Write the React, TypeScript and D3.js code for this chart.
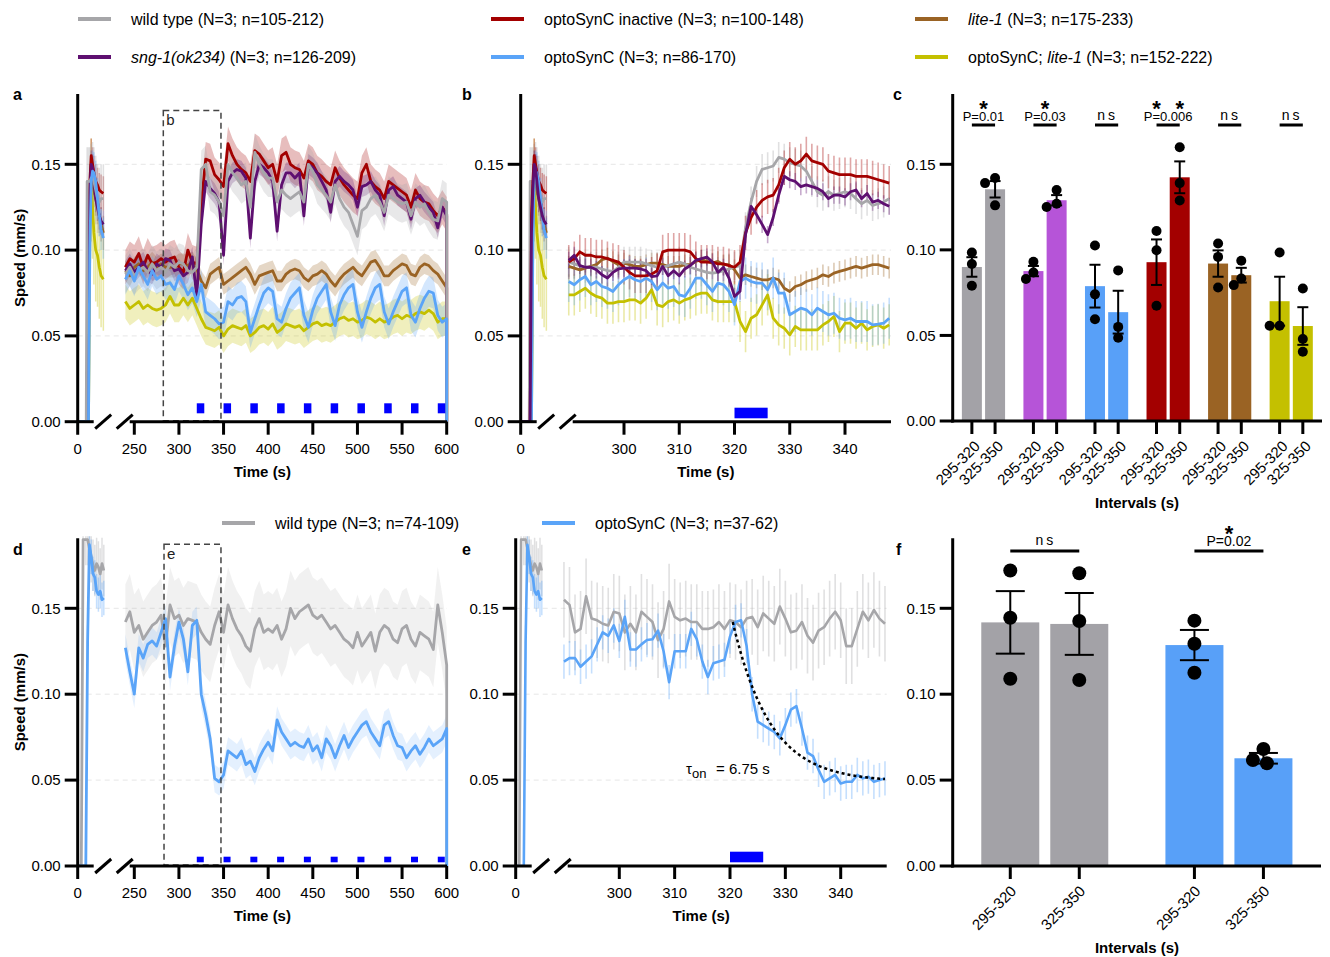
import React from "react";
import * as d3 from "d3";

const FONT = "'Liberation Sans', Arial, Helvetica, sans-serif";

// ---------- colours ----------
const COL = {
  wt: "#a6a6a9",
  inact: "#a30000",
  lite: "#9a6324",
  sng: "#5e0f70",
  opto: "#5aa4f8",
  ol: "#c4c000",
  sngBar: "#b654d8",
  wtBar: "#a3a2a7",
  optoBar: "#58a0f8",
  pulse: "#0000ff",
};

// ---------- time axes ----------
const TIME_A = [...d3.range(240, 601, 5), 600];
const TIME_B = d3.range(290, 349, 1);
const START_T_A = [0, 9.5, 10.5, 12, 13.5, 15, 16.5, 18, 20, 22, 24, 26, 28.5];
const START_T_D = [0, 4, 6, 9, 11, 13, 15, 17, 19, 21, 23, 25, 27, 29];
const PULSES_A = d3.range(320, 591, 30);
const PULSE_B = [320];
const PULSE_DUR = 6;
const Y_TICKS = [0, 0.05, 0.1, 0.15];
const GRID = [0.05, 0.1, 0.15];

// ---------- panel a: startup segment ----------
const START_WT_A = [0, 0, 0.14, 0.14, 0.14, 0.142, 0.143, 0.14, 0.135, 0.13, 0.128, 0.13, 0.13];
const START_INACT_A = [0, 0, 0, 0.12, 0.14, 0.155, 0.15, 0.145, 0.14, 0.138, 0.135, 0.134, 0.133];
const START_SNG_A = [0, 0, 0, 0.11, 0.135, 0.15, 0.148, 0.14, 0.13, 0.125, 0.12, 0.117, 0.115];
const START_OPTO_A = [0, 0, 0, 0, 0.1, 0.14, 0.146, 0.145, 0.14, 0.13, 0.12, 0.112, 0.107];
const START_OL_A = [0, 0, 0, 0, 0.11, 0.135, 0.125, 0.11, 0.1, 0.097, 0.09, 0.085, 0.083];
const START_LITE_A = [0, 0, 0, 0.1, 0.13, 0.14, 0.14, 0.135, 0.13, 0.125, 0.12, 0.115, 0.11];

// ---------- panel a: 240-600 s ----------
const INACT_A = [
  0.090, 0.095, 0.093, 0.098, 0.090, 0.097, 0.092, 0.093, 0.095, 0.093,
  0.095, 0.096, 0.090, 0.087, 0.100, 0.093, 0.092, 0.127, 0.153, 0.152,
  0.144, 0.141, 0.137, 0.162, 0.155, 0.150, 0.147, 0.145, 0.140, 0.158,
  0.156, 0.152, 0.148, 0.150, 0.140, 0.155, 0.157, 0.150, 0.148, 0.147,
  0.142, 0.152, 0.150, 0.145, 0.143, 0.140, 0.138, 0.148, 0.142, 0.138,
  0.135, 0.132, 0.130, 0.145, 0.150, 0.140, 0.137, 0.135, 0.130, 0.140,
  0.138, 0.136, 0.134, 0.132, 0.125, 0.135, 0.130, 0.128, 0.127, 0.123,
  0.120, 0.125, 0.121, 0,
];
const SNG_A = [
  0.088, 0.092, 0.087, 0.090, 0.093, 0.088, 0.086, 0.092, 0.090, 0.095,
  0.094, 0.088, 0.089, 0.085, 0.087, 0.096, 0.073, 0.115, 0.140, 0.136,
  0.133, 0.128, 0.097, 0.140, 0.145, 0.147, 0.146, 0.142, 0.107, 0.140,
  0.150, 0.148, 0.145, 0.140, 0.111, 0.138, 0.145, 0.145, 0.142, 0.145,
  0.120, 0.150, 0.148, 0.145, 0.140, 0.135, 0.122, 0.140, 0.143, 0.140,
  0.138, 0.135, 0.125, 0.137, 0.138, 0.140, 0.135, 0.132, 0.120, 0.135,
  0.137, 0.132, 0.130, 0.128, 0.118, 0.130, 0.132, 0.128, 0.125, 0.122,
  0.113, 0.125, 0.120, 0,
];
const WT_A = [
  0.086, 0.090, 0.085, 0.088, 0.090, 0.087, 0.092, 0.088, 0.090, 0.087,
  0.092, 0.090, 0.093, 0.092, 0.088, 0.087, 0.090, 0.147, 0.150, 0.134,
  0.132, 0.128, 0.120, 0.150, 0.145, 0.142, 0.138, 0.140, 0.125, 0.157,
  0.150, 0.145, 0.142, 0.142, 0.128, 0.135, 0.132, 0.130, 0.132, 0.134,
  0.128, 0.150, 0.146, 0.138, 0.135, 0.132, 0.128, 0.138, 0.130, 0.125,
  0.122, 0.115, 0.108, 0.123, 0.125, 0.130, 0.132, 0.128, 0.122, 0.132,
  0.130, 0.128, 0.127, 0.128, 0.120, 0.128, 0.125, 0.127, 0.122, 0.118,
  0.117, 0.130, 0.128, 0,
];
const LITE_A = [
  0.088, 0.085, 0.090, 0.092, 0.088, 0.090, 0.093, 0.090, 0.092, 0.090,
  0.090, 0.090, 0.092, 0.092, 0.091, 0.093, 0.089, 0.082, 0.078, 0.086,
  0.088, 0.090, 0.080, 0.082, 0.084, 0.086, 0.088, 0.090, 0.086, 0.080,
  0.085, 0.086, 0.087, 0.088, 0.082, 0.082, 0.086, 0.088, 0.089, 0.088,
  0.084, 0.082, 0.085, 0.086, 0.088, 0.086, 0.082, 0.079, 0.083, 0.086,
  0.088, 0.090, 0.087, 0.085, 0.089, 0.093, 0.094, 0.090, 0.085, 0.085,
  0.088, 0.090, 0.092, 0.091, 0.086, 0.085, 0.090, 0.092, 0.091, 0.088,
  0.086, 0.082, 0.078, 0,
];
const OPTO_A = [
  0.083, 0.088, 0.082, 0.090, 0.085, 0.080, 0.088, 0.083, 0.085, 0.080,
  0.081, 0.077, 0.085, 0.080, 0.074, 0.078, 0.070, 0.080, 0.064, 0.062,
  0.060, 0.057, 0.058, 0.070, 0.068, 0.072, 0.073, 0.070, 0.052, 0.060,
  0.068, 0.075, 0.078, 0.076, 0.060, 0.058, 0.066, 0.072, 0.075, 0.078,
  0.062, 0.055, 0.065, 0.072, 0.076, 0.080, 0.064, 0.056, 0.068, 0.074,
  0.078, 0.080, 0.064, 0.055, 0.064, 0.072, 0.078, 0.080, 0.064, 0.057,
  0.064, 0.070, 0.076, 0.078, 0.062, 0.058, 0.066, 0.072, 0.076, 0.075,
  0.062, 0.058, 0.060, 0,
];
const OL_A = [
  0.070, 0.066, 0.068, 0.070, 0.066, 0.068, 0.066, 0.065, 0.066, 0.068,
  0.073, 0.068, 0.068, 0.072, 0.068, 0.072, 0.066, 0.060, 0.055, 0.054,
  0.053, 0.055, 0.050, 0.054, 0.056, 0.055, 0.054, 0.056, 0.050, 0.052,
  0.055, 0.056, 0.054, 0.057, 0.052, 0.054, 0.057, 0.056, 0.055, 0.056,
  0.053, 0.055, 0.057, 0.058, 0.056, 0.057, 0.056, 0.058, 0.060, 0.061,
  0.059, 0.060, 0.058, 0.059, 0.061, 0.060, 0.058, 0.060, 0.058, 0.059,
  0.061, 0.062, 0.060, 0.062, 0.061, 0.063, 0.064, 0.063, 0.065, 0.063,
  0.058, 0.060, 0.060, 0,
];

// ---------- panel b: 290-348 s ----------
const INACT_B = [
  0.093, 0.095, 0.099, 0.097, 0.097, 0.096, 0.096, 0.095, 0.094, 0.093,
  0.090, 0.087, 0.085, 0.085, 0.085, 0.086, 0.088, 0.099, 0.100, 0.100,
  0.100, 0.100, 0.099, 0.095, 0.093, 0.093, 0.093, 0.092, 0.092, 0.091,
  0.090, 0.093, 0.110, 0.119, 0.125, 0.129, 0.131, 0.132, 0.138, 0.148,
  0.153, 0.150, 0.152, 0.156, 0.152, 0.151, 0.150, 0.146, 0.145, 0.144,
  0.144, 0.144, 0.143, 0.143, 0.143, 0.142, 0.141, 0.140, 0.139,
];
const WT_B = [
  0.093, 0.092, 0.091, 0.090, 0.090, 0.090, 0.089, 0.088, 0.0876, 0.090,
  0.093, 0.093, 0.093, 0.093, 0.092, 0.091, 0.090, 0.090, 0.091, 0.092,
  0.093, 0.092, 0.090, 0.089, 0.088, 0.087, 0.0866, 0.087, 0.088, 0.089,
  0.090, 0.091, 0.113, 0.128, 0.140, 0.147, 0.148, 0.149, 0.154, 0.153,
  0.151, 0.150, 0.149, 0.146, 0.140, 0.134, 0.132, 0.134, 0.132, 0.133,
  0.134, 0.133, 0.130, 0.127, 0.129, 0.126, 0.127, 0.128, 0.130,
];
const SNG_B = [
  0.094, 0.097, 0.091, 0.090, 0.090, 0.0885, 0.0856, 0.0837, 0.087, 0.089,
  0.0895, 0.0895, 0.0895, 0.089, 0.088, 0.0846, 0.085, 0.0905, 0.085, 0.088,
  0.085, 0.089, 0.091, 0.094, 0.095, 0.096, 0.093, 0.087, 0.090, 0.0837,
  0.073, 0.076, 0.109, 0.1255, 0.1206, 0.115, 0.109, 0.119, 0.132, 0.143,
  0.141, 0.140, 0.137, 0.138, 0.137, 0.136, 0.134, 0.130, 0.132, 0.132,
  0.131, 0.134, 0.135, 0.130, 0.133, 0.128, 0.129, 0.127, 0.1255,
];
const LITE_B = [
  0.0905, 0.0895, 0.0885, 0.0895, 0.0905, 0.0915, 0.0944, 0.0953, 0.0934, 0.0915,
  0.0924, 0.0915, 0.0905, 0.0905, 0.0915, 0.0924, 0.0924, 0.0915, 0.0905, 0.0905,
  0.0905, 0.0915, 0.0915, 0.0934, 0.0944, 0.0934, 0.0924, 0.0934, 0.0915, 0.0915,
  0.0885, 0.0837, 0.0856, 0.0846, 0.0837, 0.0827, 0.0827, 0.0837, 0.0827, 0.0778,
  0.0759, 0.0788, 0.0798, 0.0817, 0.0827, 0.0837, 0.0856, 0.0846, 0.0866, 0.0876,
  0.0885, 0.0895, 0.0905, 0.0895, 0.0905, 0.0915, 0.0915, 0.0905, 0.0895,
];
const OPTO_B = [
  0.0817, 0.0798, 0.0827, 0.0846, 0.0798, 0.0817, 0.0788, 0.0778, 0.0759, 0.0798,
  0.0827, 0.0846, 0.0827, 0.0817, 0.0837, 0.0817, 0.0769, 0.0808, 0.0778, 0.0788,
  0.0739, 0.073, 0.0778, 0.0837, 0.0837, 0.0798, 0.0759, 0.0808, 0.0798, 0.0759,
  0.0681, 0.0817, 0.0837, 0.0817, 0.0808, 0.0808, 0.0769, 0.0837, 0.0749, 0.0749,
  0.0623, 0.0642, 0.0662, 0.0652, 0.0623, 0.0662, 0.0642, 0.0623, 0.0632, 0.0603,
  0.0593, 0.0603, 0.0584, 0.0584, 0.0584, 0.0564, 0.0568, 0.0574, 0.0603,
];
const OL_B = [
  0.0739, 0.0739, 0.0759, 0.0778, 0.0749, 0.073, 0.072, 0.0691, 0.0691, 0.07,
  0.07, 0.071, 0.071, 0.0691, 0.072, 0.0769, 0.0681, 0.0671, 0.07, 0.071,
  0.0691, 0.071, 0.072, 0.0739, 0.0749, 0.0749, 0.071, 0.07, 0.07, 0.07,
  0.07, 0.0584, 0.0525, 0.0603, 0.0623, 0.0681, 0.0739, 0.0603, 0.0564, 0.0545,
  0.0506, 0.0555, 0.0535, 0.0535, 0.0535, 0.0535, 0.0564, 0.0584, 0.0613, 0.0525,
  0.0574, 0.0574, 0.0545, 0.0574, 0.0535, 0.0555, 0.0564, 0.0545, 0.0564,
];

// ---------- panel d ----------
const START_WT_D = [0, 0, 0.19, 0.19, 0.19, 0.185, 0.18, 0.175, 0.172, 0.176, 0.174, 0.17, 0.176, 0.172];
const START_OPTO_D = [0, 0, 0, 0, 0.13, 0.187, 0.18, 0.17, 0.168, 0.16, 0.158, 0.16, 0.155, 0.156];
const WT_D = [
  0.142, 0.148, 0.136, 0.140, 0.132, 0.136, 0.140, 0.142, 0.146, 0.128,
  0.152, 0.144, 0.146, 0.140, 0.144, 0.143, 0.142, 0.136, 0.132, 0.129,
  0.140, 0.148, 0.136, 0.152, 0.144, 0.138, 0.134, 0.128, 0.125, 0.138,
  0.144, 0.136, 0.138, 0.136, 0.140, 0.132, 0.138, 0.150, 0.144, 0.148,
  0.150, 0.152, 0.146, 0.144, 0.146, 0.142, 0.138, 0.140, 0.136, 0.132,
  0.130, 0.127, 0.136, 0.128, 0.132, 0.136, 0.125, 0.136, 0.140, 0.138,
  0.132, 0.130, 0.138, 0.140, 0.132, 0.128, 0.136, 0.134, 0.132, 0.126,
  0.152, 0.136, 0.117, 0,
];
const OPTO_D = [
  0.127, 0.113, 0.100, 0.127, 0.121, 0.129, 0.131, 0.128, 0.136, 0.144,
  0.110, 0.128, 0.142, 0.132, 0.113, 0.140, 0.143, 0.100, 0.088, 0.074,
  0.051, 0.049, 0.053, 0.067, 0.065, 0.063, 0.067, 0.059, 0.061, 0.055,
  0.063, 0.068, 0.072, 0.067, 0.085, 0.078, 0.074, 0.070, 0.072, 0.070,
  0.069, 0.074, 0.067, 0.070, 0.063, 0.074, 0.070, 0.063, 0.070, 0.076,
  0.069, 0.074, 0.078, 0.082, 0.084, 0.078, 0.074, 0.070, 0.082, 0.084,
  0.076, 0.070, 0.069, 0.063, 0.067, 0.070, 0.065, 0.069, 0.074, 0.070,
  0.072, 0.074, 0.080, 0,
];

// ---------- panel e ----------
const WT_E = [
  0.155, 0.152, 0.136, 0.138, 0.157, 0.144, 0.143, 0.141, 0.140, 0.148,
  0.147, 0.136, 0.141, 0.136, 0.148, 0.145, 0.142, 0.1315, 0.138, 0.154,
  0.145, 0.143, 0.144, 0.142, 0.142, 0.138, 0.138, 0.139, 0.142, 0.138,
  0.143, 0.142, 0.139, 0.144, 0.145, 0.139, 0.147, 0.144, 0.141, 0.151,
  0.144, 0.136, 0.137, 0.142, 0.134, 0.130, 0.137, 0.139, 0.144, 0.148,
  0.143, 0.128, 0.128, 0.138, 0.148, 0.143, 0.149, 0.144, 0.141,
];
const OPTO_E = [
  0.119, 0.121, 0.121, 0.116, 0.119, 0.122, 0.129, 0.136, 0.134, 0.140,
  0.131, 0.145, 0.126, 0.126, 0.129, 0.1315, 0.132, 0.137, 0.125, 0.107,
  0.125, 0.125, 0.125, 0.138, 0.132, 0.119, 0.110, 0.118, 0.119, 0.120,
  0.1335, 0.142, 0.143, 0.128, 0.100, 0.084, 0.082, 0.080, 0.078, 0.0743,
  0.082, 0.091, 0.093, 0.080, 0.066, 0.064, 0.056, 0.049, 0.051, 0.053,
  0.048, 0.049, 0.049, 0.053, 0.051, 0.052, 0.049, 0.050, 0.051,
];
const FIT = { t0: 320.5, t1: 348, amp: 0.093, base: 0.049, tau: 6.75 };

// ---------- panel c ----------
const C_GROUPS = ["wt", "sng", "opto", "inact", "lite", "ol"];
const C_COLORS = [COL.wtBar, COL.sngBar, COL.optoBar, COL.inact, COL.lite, COL.ol];
const INTERVALS = ["295-320", "325-350"];
const C_MEANS = [[0.090, 0.1354], [0.0876, 0.129], [0.0788, 0.0636], [0.0928, 0.1424], [0.092, 0.0852], [0.070, 0.0555]];
const C_SEM = [[0.0057, 0.0048], [0.003, 0.003], [0.0125, 0.0125], [0.0133, 0.0093], [0.0077, 0.0043], [0.0143, 0.011]];
const C_POINTS = [
  [[0.0985, 0.0917, 0.079], [0.142, 0.139, 0.126]],
  [[0.083, 0.093, 0.0868], [0.125, 0.135, 0.127]],
  [[0.1025, 0.074, 0.0595], [0.088, 0.055, 0.0486]],
  [[0.111, 0.0998, 0.0673], [0.160, 0.139, 0.1288]],
  [[0.1037, 0.0959, 0.078], [0.0794, 0.0936, 0.0833]],
  [[0.0985, 0.0557, 0.0557], [0.0774, 0.0479, 0.0405]],
];
const C_STATS = ["P=0.01", "P=0.03", "ns", "P=0.006", "ns", "ns"];
const C_STARS = [1, 1, 0, 2, 0, 0];

// ---------- panel f ----------
const F_GROUPS = ["wt", "opto"];
const F_COLORS = [COL.wtBar, COL.optoBar];
const F_MEANS = [[0.1418, 0.1409], [0.1286, 0.0627]];
const F_SEM = [[0.0182, 0.018], [0.0088, 0.0031]];
const F_POINTS = [
  [[0.172, 0.1445, 0.109], [0.1704, 0.1426, 0.1083]],
  [[0.1428, 0.1294, 0.1125], [0.0681, 0.0598, 0.0617]],
];
const F_STATS = ["ns", "P=0.02"];
const F_STARS = [0, 1];

// ---------- legend ----------
type LegItem = { color: string; parts: { t: string; it?: boolean }[] };
const LEGEND_TOP: LegItem[] = [
  { color: COL.wt, parts: [{ t: "wild type (N=3; n=105-212)" }] },
  { color: COL.sng, parts: [{ t: "sng-1(ok234)", it: true }, { t: " (N=3; n=126-209)" }] },
  { color: COL.inact, parts: [{ t: "optoSynC inactive (N=3; n=100-148)" }] },
  { color: COL.opto, parts: [{ t: "optoSynC (N=3; n=86-170)" }] },
  { color: COL.lite, parts: [{ t: "lite-1", it: true }, { t: " (N=3; n=175-233)" }] },
  { color: COL.ol, parts: [{ t: "optoSynC; " }, { t: "lite-1", it: true }, { t: " (N=3; n=152-222)" }] },
];
const LEGEND_MID: LegItem[] = [
  { color: COL.wt, parts: [{ t: "wild type (N=3; n=74-109)" }] },
  { color: COL.opto, parts: [{ t: "optoSynC (N=3; n=37-62)" }] },
];

// ---------- helpers ----------
type Series = { color: string; values: number[]; sem: number; startValues: number[]; startSem: number };

type TPProps = {
  id: string;
  x0: number; y0: number; y15: number; yTop: number;
  seg2Domain: [number, number]; seg2Range: [number, number];
  axisEnd: number;
  xTicks: number[];
  startT: number[];
  mainT: number[];
  series: Series[];
  errMode: "band" | "bars";
  bandOpacity: number;
  lineW: number;
  pulses: number[]; pulseY: [number, number]; pulseMinW: number;
  box?: { t0: number; t1: number; top: number; label: string };
  letter: string; letterX: number; letterY: number;
  yTitle: boolean;
  children?: React.ReactNode;
};

function TimePanel(p: TPProps) {
  const y = d3.scaleLinear().domain([0, 0.15]).range([p.y0, p.y15]);
  const xs1 = d3.scaleLinear().domain([0, 30]).range([p.x0, p.x0 + 27]);
  const xs2 = d3.scaleLinear().domain(p.seg2Domain).range(p.seg2Range);
  const fmt = d3.format(".2f");
  const startLine = d3.line<number>().x((_, i) => xs1(p.startT[i])).y((v) => y(v));
  const mainLine = d3.line<number>().x((_, i) => xs2(p.mainT[i])).y((v) => y(v));
  const clip = `clip-${p.id}`;
  const slash = (cx: number) => `M${cx - 8},${p.y0 + 7}L${cx + 8},${p.y0 - 7}`;
  return (
    <g>
      <defs>
        <clipPath id={clip}>
          <rect x={p.x0} y={p.yTop - 2} width={p.axisEnd - p.x0 + 3} height={p.y0 - p.yTop + 2} />
        </clipPath>
      </defs>
      {GRID.map((g) => (
        <line key={g} x1={p.x0} x2={p.axisEnd} y1={y(g)} y2={y(g)} stroke="#e6e6e6" strokeDasharray="5,4" strokeWidth={1} />
      ))}
      <g clipPath={`url(#${clip})`}>
        {p.series.map((s, si) =>
          s.startValues.map((v, i) =>
            v > 0 ? (
              <line key={`se${si}-${i}`} x1={xs1(p.startT[i])} x2={xs1(p.startT[i])} y1={y(v - s.startSem)} y2={y(v + s.startSem)}
                stroke={s.color} strokeOpacity={0.35} strokeWidth={1.5} />
            ) : null
          )
        )}
        {p.errMode === "band"
          ? p.series.map((s, si) => {
              const area = d3
                .area<number>()
                .defined((v) => v > 0)
                .x((_, i) => xs2(p.mainT[i]))
                .y0((v) => y(Math.max(0, v - s.sem)))
                .y1((v) => y(v + s.sem));
              return <path key={`band${si}`} d={area(s.values) || ""} fill={s.color} fillOpacity={p.bandOpacity} />;
            })
          : p.series.map((s, si) =>
              s.values.map((v, i) => (
                <line key={`eb${si}-${i}`} x1={xs2(p.mainT[i])} x2={xs2(p.mainT[i])} y1={y(v - s.sem)} y2={y(v + s.sem)}
                  stroke={s.color} strokeOpacity={0.35} strokeWidth={1.6} />
              ))
            )}
        {p.series.map((s, si) => (
          <g key={`ln${si}`}>
            <path d={startLine(s.startValues) || ""} fill="none" stroke={s.color} strokeWidth={p.lineW} strokeLinejoin="round" />
            <path d={mainLine(s.values) || ""} fill="none" stroke={s.color} strokeWidth={p.lineW} strokeLinejoin="round" />
          </g>
        ))}
      </g>
      {p.pulses.map((t) => {
        const xa = xs2(t);
        const w = Math.max(p.pulseMinW, xs2(t + PULSE_DUR) - xa);
        return <rect key={`p${t}`} x={xa} y={p.y0 - p.pulseY[0]} width={w} height={p.pulseY[0] - p.pulseY[1]} fill={COL.pulse} />;
      })}
      {p.box && (
        <g>
          <rect x={xs2(p.box.t0)} y={y(p.box.top)} width={xs2(p.box.t1) - xs2(p.box.t0)} height={p.y0 - 1 - y(p.box.top)}
            fill="none" stroke="#444" strokeWidth={1.5} strokeDasharray="6,4" />
          <text x={xs2(p.box.t0) + 3} y={y(p.box.top) + 15} fontSize={15} fill="#222">{p.box.label}</text>
        </g>
      )}
      <line x1={p.x0} x2={p.x0} y1={p.yTop} y2={p.y0 + 13} stroke="#000" strokeWidth={3} />
      <line x1={p.x0} x2={p.x0 + 16} y1={p.y0} y2={p.y0} stroke="#000" strokeWidth={3} />
      <path d={slash(p.x0 + 25.5)} stroke="#000" strokeWidth={3} />
      <path d={slash(p.x0 + 47)} stroke="#000" strokeWidth={3} />
      <line x1={p.x0 + 52} x2={p.axisEnd} y1={p.y0} y2={p.y0} stroke="#000" strokeWidth={3} />
      {Y_TICKS.map((t) => (
        <g key={`yt${t}`}>
          <line x1={p.x0 - 13} x2={p.x0} y1={y(t)} y2={y(t)} stroke="#000" strokeWidth={3} />
          <text x={p.x0 - 17} y={y(t)} dy="0.35em" textAnchor="end" fontSize={15}>{fmt(t)}</text>
        </g>
      ))}
      <text x={xs1(0)} y={p.y0 + 27} dy="0.35em" textAnchor="middle" fontSize={15}>0</text>
      {p.xTicks.map((t) => (
        <g key={`xt${t}`}>
          <line x1={xs2(t)} x2={xs2(t)} y1={p.y0} y2={p.y0 + 13} stroke="#000" strokeWidth={3} />
          <text x={xs2(t)} y={p.y0 + 27} dy="0.35em" textAnchor="middle" fontSize={15}>{t}</text>
        </g>
      ))}
      <text x={(p.x0 + p.axisEnd) / 2} y={p.y0 + 50} dy="0.35em" textAnchor="middle" fontSize={15} fontWeight="bold">Time (s)</text>
      {p.yTitle && (
        <text transform={`translate(20,${(p.yTop + p.y0) / 2}) rotate(-90)`} dy="0.35em" textAnchor="middle" fontSize={15} fontWeight="bold">Speed (mm/s)</text>
      )}
      <text x={p.letterX} y={p.letterY} fontSize={16} fontWeight="bold">{p.letter}</text>
      {p.children}
    </g>
  );
}

function dodge(vals: number[], yf: (v: number) => number, r: number): number[] {
  const offs = vals.map(() => 0);
  const placed: { x: number; y: number }[] = [];
  const order = vals.map((_, i) => i).sort((a, b) => vals[b] - vals[a]);
  const cands = [0, -0.5, 0.5, -1, 1, -1.5, 1.5, -2, 2].map((k) => k * r);
  for (const i of order) {
    const py = yf(vals[i]);
    let chosen = cands[cands.length - 1];
    for (const dx of cands) {
      if (placed.every((q) => Math.hypot(q.x - dx, q.y - py) >= 1.9 * r)) { chosen = dx; break; }
    }
    offs[i] = chosen;
    placed.push({ x: chosen, y: py });
  }
  return offs;
}

type BPProps = {
  x0: number; y0: number; y15: number; yTop: number; right: number;
  groups: string[]; colors: string[]; means: number[][]; sems: number[][]; points: number[][][];
  stats: string[]; stars: number[];
  barW: number; innerHalf: number; capW: number; r: number;
  statLineY: number; statTextY: number; starY: number; statFont: number;
  labelDx: number; labelDy: number; labelFont: number; titleY: number;
  letter: string; letterX: number; letterY: number;
};

function BarPanel(p: BPProps) {
  const y = d3.scaleLinear().domain([0, 0.15]).range([p.y0, p.y15]);
  const xg = d3.scaleBand().domain(p.groups).range([p.x0, p.right]).padding(0);
  const xi = d3.scaleBand().domain(INTERVALS).range([-p.innerHalf, p.innerHalf]).padding(0);
  const fmt = d3.format(".2f");
  const cx = (gi: number, k: number) => (xg(p.groups[gi]) as number) + xg.bandwidth() / 2 + (xi(INTERVALS[k]) as number) + xi.bandwidth() / 2;
  return (
    <g>
      {p.groups.map((g, gi) =>
        INTERVALS.map((iv, k) => {
          const c = cx(gi, k);
          const m = p.means[gi][k];
          const s = p.sems[gi][k];
          const pts = p.points[gi][k];
          const offs = dodge(pts, (v) => y(v), p.r);
          return (
            <g key={`${g}-${iv}`}>
              <rect x={c - p.barW / 2} y={y(m)} width={p.barW} height={y(0) - y(m)} fill={p.colors[gi]} />
              {pts.map((v, j) => (
                <circle key={j} cx={c + offs[j]} cy={y(v)} r={p.r} fill="#000" />
              ))}
              <line x1={c} x2={c} y1={y(m - s)} y2={y(m + s)} stroke="#000" strokeWidth={2} />
              <line x1={c - p.capW / 2} x2={c + p.capW / 2} y1={y(m + s)} y2={y(m + s)} stroke="#000" strokeWidth={2} />
              <line x1={c - p.capW / 2} x2={c + p.capW / 2} y1={y(m - s)} y2={y(m - s)} stroke="#000" strokeWidth={2} />
              <line x1={c} x2={c} y1={p.y0} y2={p.y0 + 13} stroke="#000" strokeWidth={3} />
              <text transform={`translate(${c + p.labelDx},${p.y0 + p.labelDy}) rotate(-45)`} textAnchor="end" fontSize={p.labelFont}>{iv}</text>
            </g>
          );
        })
      )}
      {p.groups.map((g, gi) => {
        const a = cx(gi, 0);
        const b = cx(gi, 1);
        const mid = (a + b) / 2;
        const isNs = p.stats[gi] === "ns";
        return (
          <g key={`st${g}`}>
            <line x1={a} x2={b} y1={p.statLineY} y2={p.statLineY} stroke="#000" strokeWidth={3} />
            {isNs ? (
              <text x={mid + 1} y={p.statTextY - 1} textAnchor="middle" fontSize={14} letterSpacing={3}>ns</text>
            ) : (
              <text x={mid} y={p.statTextY} textAnchor="middle" fontSize={p.statFont}>{p.stats[gi]}</text>
            )}
            {p.stars[gi] === 1 && <text x={mid} y={p.starY} textAnchor="middle" fontSize={22} fontWeight="bold">*</text>}
            {p.stars[gi] === 2 &&
              [a, b].map((xx, j) => (
                <text key={j} x={xx} y={p.starY} textAnchor="middle" fontSize={22} fontWeight="bold">*</text>
              ))}
          </g>
        );
      })}
      <line x1={p.x0} x2={p.x0} y1={p.yTop} y2={p.y0 + 1.5} stroke="#000" strokeWidth={3} />
      <line x1={p.x0 - 1.5} x2={p.right} y1={p.y0} y2={p.y0} stroke="#000" strokeWidth={3} />
      {Y_TICKS.map((t) => (
        <g key={`yt${t}`}>
          <line x1={p.x0 - 13} x2={p.x0} y1={y(t)} y2={y(t)} stroke="#000" strokeWidth={3} />
          <text x={p.x0 - 17} y={y(t)} dy="0.35em" textAnchor="end" fontSize={15}>{fmt(t)}</text>
        </g>
      ))}
      <text x={1137} y={p.titleY} dy="0.35em" textAnchor="middle" fontSize={15} fontWeight="bold">Intervals (s)</text>
      <text x={p.letterX} y={p.letterY} fontSize={16} fontWeight="bold">{p.letter}</text>
    </g>
  );
}

function Legend({ items, cols, rows }: { items: LegItem[]; cols: number[]; rows: number[] }) {
  return (
    <g>
      {items.map((it, i) => {
        const cx = cols[Math.floor(i / rows.length)];
        const ry = rows[i % rows.length];
        return (
          <g key={i}>
            <line x1={cx} x2={cx + 33} y1={ry} y2={ry} stroke={it.color} strokeWidth={4} />
            <text x={cx + 53} y={ry} dy="0.35em" fontSize={16}>
              {it.parts.map((pt, j) => (
                <tspan key={j} fontStyle={pt.it ? "italic" : "normal"}>{pt.t}</tspan>
              ))}
            </text>
          </g>
        );
      })}
    </g>
  );
}

export default function App() {
  const seriesA: Series[] = [
    { color: COL.ol, values: OL_A, sem: 0.010, startValues: START_OL_A, startSem: 0.03 },
    { color: COL.lite, values: LITE_A, sem: 0.006, startValues: START_LITE_A, startSem: 0.01 },
    { color: COL.inact, values: INACT_A, sem: 0.010, startValues: START_INACT_A, startSem: 0.01 },
    { color: COL.sng, values: SNG_A, sem: 0.006, startValues: START_SNG_A, startSem: 0.008 },
    { color: COL.wt, values: WT_A, sem: 0.011, startValues: START_WT_A, startSem: 0.02 },
    { color: COL.opto, values: OPTO_A, sem: 0.009, startValues: START_OPTO_A, startSem: 0.012 },
  ];
  const seriesB: Series[] = [
    { color: COL.ol, values: OL_B, sem: 0.012, startValues: START_OL_A, startSem: 0.03 },
    { color: COL.lite, values: LITE_B, sem: 0.006, startValues: START_LITE_A, startSem: 0.01 },
    { color: COL.wt, values: WT_B, sem: 0.009, startValues: START_WT_A, startSem: 0.02 },
    { color: COL.inact, values: INACT_B, sem: 0.010, startValues: START_INACT_A, startSem: 0.01 },
    { color: COL.opto, values: OPTO_B, sem: 0.012, startValues: START_OPTO_A, startSem: 0.012 },
    { color: COL.sng, values: SNG_B, sem: 0.005, startValues: START_SNG_A, startSem: 0.008 },
  ];
  const seriesD: Series[] = [
    { color: COL.wt, values: WT_D, sem: 0.022, startValues: START_WT_D, startSem: 0.015 },
    { color: COL.opto, values: OPTO_D, sem: 0.008, startValues: START_OPTO_D, startSem: 0.01 },
  ];
  const seriesE: Series[] = [
    { color: COL.wt, values: WT_E, sem: 0.022, startValues: START_WT_D, startSem: 0.015 },
    { color: COL.opto, values: OPTO_E, sem: 0.01, startValues: START_OPTO_D, startSem: 0.01 },
  ];

  const yE = d3.scaleLinear().domain([0, 0.15]).range([866, 608.3]);
  const xE = d3.scaleLinear().domain([300, 340]).range([619.3, 840.7]);
  const fitT = d3.range(FIT.t0, FIT.t1 + 0.01, 0.25);
  const fitLine = d3
    .line<number>()
    .x((t) => xE(t))
    .y((t) => yE(FIT.base + FIT.amp * Math.exp(-(t - FIT.t0) / FIT.tau)));

  return (
    <svg width={1330} height={957} style={{ position: "absolute", left: 0, top: 0, background: "#fff" }} fontFamily={FONT}>
      <rect x={0} y={0} width={1330} height={957} fill="#fff" />
      <Legend items={LEGEND_TOP} cols={[78, 491, 915]} rows={[19, 57]} />
      <Legend items={LEGEND_MID} cols={[222, 542]} rows={[523]} />

      <TimePanel id="a" x0={77.7} y0={421.7} y15={164.3} yTop={94} seg2Domain={[250, 600]} seg2Range={[134.3, 446.7]}
        axisEnd={447} xTicks={[250, 300, 350, 400, 450, 500, 550, 600]} startT={START_T_A} mainT={TIME_A}
        series={seriesA} errMode="band" bandOpacity={0.26} lineW={2.8}
        pulses={PULSES_A} pulseY={[18.4, 8.4]} pulseMinW={7.5}
        box={{ t0: 282.5, t1: 347.1, top: 0.1814, label: "b" }}
        letter="a" letterX={13} letterY={100} yTitle={true} />

      <TimePanel id="b" x0={520.7} y0={421.7} y15={164.3} yTop={94} seg2Domain={[300, 340]} seg2Range={[624, 845]}
        axisEnd={891} xTicks={[300, 310, 320, 330, 340]} startT={START_T_A} mainT={TIME_B}
        series={seriesB} errMode="bars" bandOpacity={0.3} lineW={2.8}
        pulses={PULSE_B} pulseY={[14, 3.4]} pulseMinW={6}
        letter="b" letterX={462} letterY={100} yTitle={false} />

      <BarPanel x0={952.7} y0={421} y15={164.3} yTop={94} right={1322} groups={C_GROUPS} colors={C_COLORS}
        means={C_MEANS} sems={C_SEM} points={C_POINTS} stats={C_STATS} stars={C_STARS}
        barW={20} innerHalf={23.2} capW={11} r={5}
        statLineY={125} statTextY={121} starY={116} statFont={13}
        labelDx={9} labelDy={26} labelFont={15} titleY={503} letter="c" letterX={893} letterY={100} />

      <TimePanel id="d" x0={77.7} y0={866} y15={608.3} yTop={538.3} seg2Domain={[250, 600]} seg2Range={[134.3, 446.7]}
        axisEnd={447} xTicks={[250, 300, 350, 400, 450, 500, 550, 600]} startT={START_T_D} mainT={TIME_A}
        series={seriesD} errMode="band" bandOpacity={0.16} lineW={2.8}
        pulses={PULSES_A} pulseY={[9.3, 3.7]} pulseMinW={7}
        box={{ t0: 283.3, t1: 347.1, top: 0.1873, label: "e" }}
        letter="d" letterX={13} letterY={555} yTitle={true} />

      <TimePanel id="e" x0={515.7} y0={866} y15={608.3} yTop={538.3} seg2Domain={[300, 340]} seg2Range={[619.3, 840.7]}
        axisEnd={886.7} xTicks={[300, 310, 320, 330, 340]} startT={START_T_D} mainT={TIME_B}
        series={seriesE} errMode="bars" bandOpacity={0.3} lineW={2.6}
        pulses={PULSE_B} pulseY={[14.3, 3.7]} pulseMinW={6}
        letter="e" letterX={462} letterY={555} yTitle={false}>
        <path d={fitLine(fitT) || ""} fill="none" stroke="#000" strokeWidth={2.5} strokeDasharray="3,3" />
        <text x={686} y={774} fontSize={15}>
          τ<tspan dy={4} fontSize={13}>on</tspan>
          <tspan x={716} dy={-4}>= 6.75 s</tspan>
        </text>
      </TimePanel>

      <BarPanel x0={952.7} y0={866} y15={608.3} yTop={538.3} right={1321} groups={F_GROUPS} colors={F_COLORS}
        means={F_MEANS} sems={F_SEM} points={F_POINTS} stats={F_STATS} stars={F_STARS}
        barW={58} innerHalf={69} capW={29} r={7}
        statLineY={551} statTextY={546} starY={541} statFont={14}
        labelDx={7} labelDy={26} labelFont={15} titleY={948} letter="f" letterX={896} letterY={555} />
    </svg>
  );
}
